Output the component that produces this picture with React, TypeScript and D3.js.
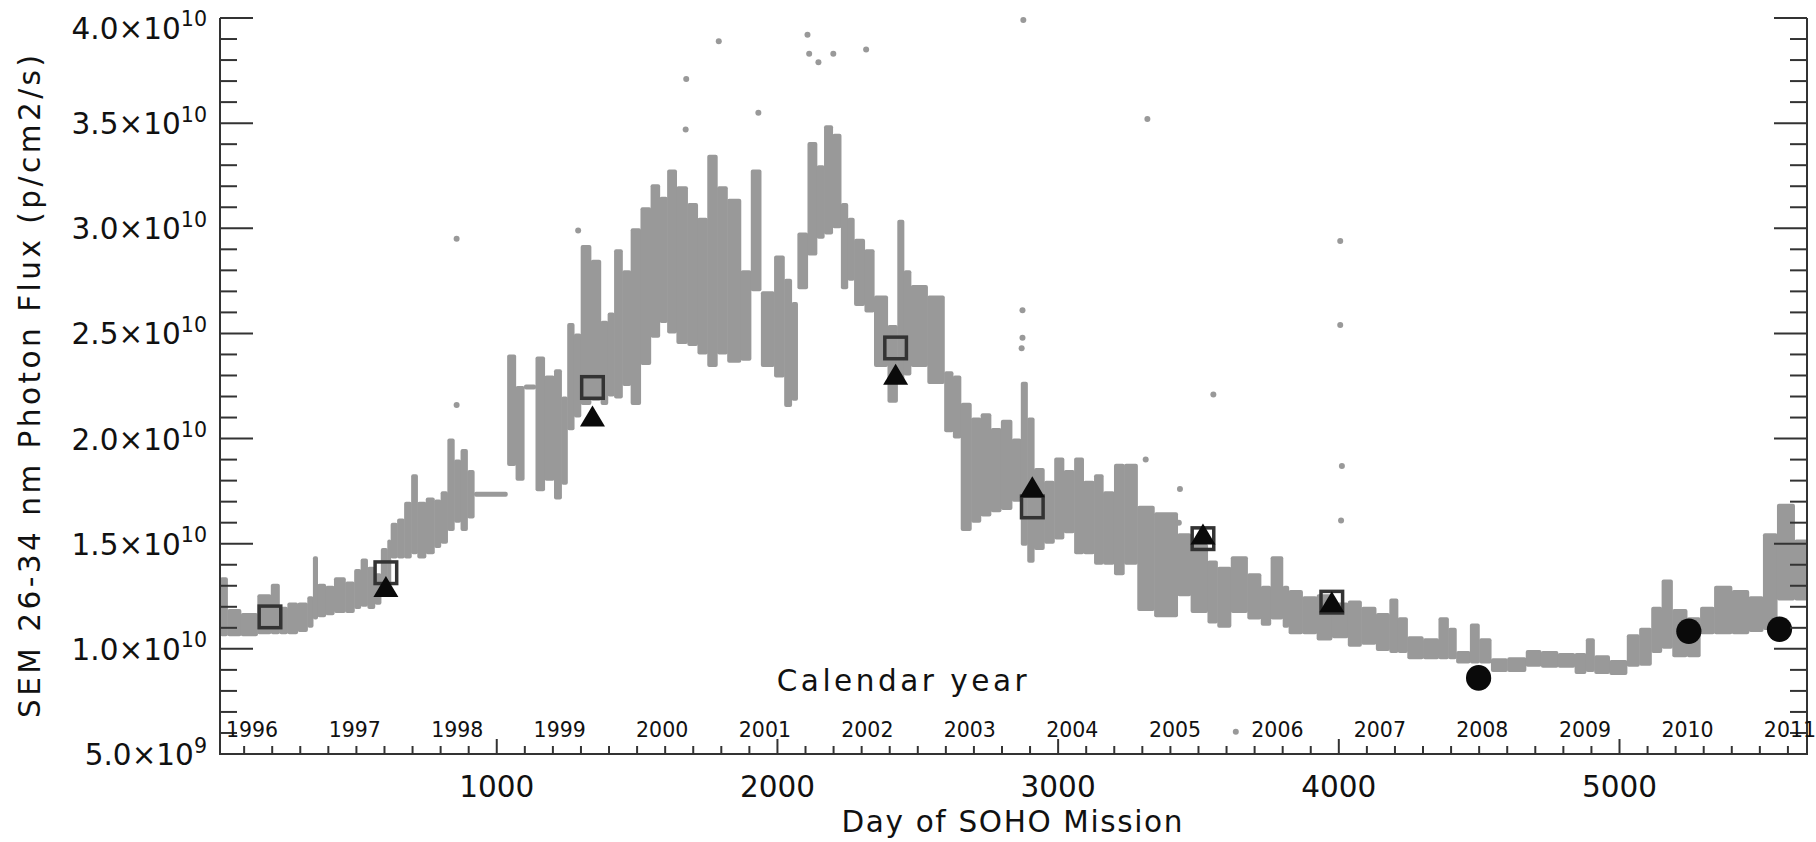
import React from 'react';
import * as d3 from 'd3';

// ---- gray daily-flux band, read per bin: start day, lowest and highest flux (1e10 p/cm2/s)
const binDay = [
  14, 40, 88, 147, 195, 225, 254, 290, 325, 345,
  361, 390, 420, 460, 492, 515, 539, 565, 587, 610,
  622, 645, 670, 695, 717, 747, 777, 800, 824, 848,
  871, 895, 919, 1037, 1067, 1097, 1138, 1170, 1204, 1230,
  1251, 1275, 1299, 1335, 1370, 1395, 1418, 1447, 1477, 1512,
  1548, 1580, 1607, 1640, 1679, 1715, 1750, 1785, 1821, 1869,
  1905, 1941, 1988, 2024, 2050, 2071, 2107, 2140, 2166, 2196,
  2226, 2250, 2273, 2310, 2344, 2392, 2427, 2450, 2475, 2534,
  2594, 2625, 2653, 2690, 2724, 2760, 2796, 2835, 2867, 2890,
  2914, 2950, 2986, 3020, 3057, 3090, 3128, 3160, 3199, 3235,
  3282, 3342, 3425, 3472, 3532, 3567, 3615, 3674, 3722, 3757,
  3800, 3821, 3870, 3921, 3975, 4032, 4080, 4132, 4180, 4210,
  4244, 4300, 4355, 4390, 4418, 4467, 4500, 4542, 4600, 4666,
  4720, 4780, 4840, 4880, 4910, 4964, 5026, 5070, 5113, 5150,
  5188, 5240, 5287, 5337, 5400, 5460, 5511, 5561, 5623,
];
const binLow = [
  1.06, 1.06, 1.06, 1.07, 1.07, 1.07, 1.07, 1.08, 1.10, 1.14,
  1.15, 1.16, 1.17, 1.17, 1.19, 1.20, 1.19, 1.21, 1.27, 1.30,
  1.43, 1.43, 1.43, 1.45, 1.43, 1.45, 1.48, 1.50, 1.56, 1.60,
  1.56, 1.62, 1.725, 1.87, 1.80, 2.235, 1.75, 1.80, 1.71, 1.78,
  2.04, 2.10, 2.16, 2.18, 2.16, 2.20, 2.19, 2.25, 2.16, 2.35,
  2.48, 2.55, 2.50, 2.45, 2.44, 2.40, 2.34, 2.40, 2.36, 2.37,
  2.70, 2.34, 2.29, 2.15, 2.18, 2.71, 2.87, 2.95, 2.97, 3.00,
  2.71, 2.75, 2.63, 2.60, 2.34, 2.17, 2.26, 2.30, 2.34, 2.26,
  2.03, 2.00, 1.56, 1.60, 1.63, 1.65, 1.66, 1.70, 1.49, 1.41,
  1.47, 1.50, 1.52, 1.55, 1.45, 1.45, 1.40, 1.40, 1.35, 1.40,
  1.18, 1.15, 1.25, 1.17, 1.12, 1.10, 1.17, 1.14, 1.11, 1.14,
  1.10, 1.07, 1.07, 1.04, 1.05, 1.01, 1.02, 0.99, 0.98, 0.98,
  0.95, 0.95, 0.95, 0.95, 0.93, 0.93, 0.93, 0.89, 0.89, 0.915,
  0.91, 0.91, 0.88, 0.89, 0.88, 0.876, 0.915, 0.92, 0.98, 1.00,
  0.96, 0.96, 1.07, 1.07, 1.07, 1.08, 1.09, 1.23, 1.23,
];
const binHigh = [
  1.34, 1.19, 1.17, 1.26, 1.31, 1.20, 1.22, 1.22, 1.25, 1.44,
  1.31, 1.30, 1.34, 1.32, 1.38, 1.43, 1.39, 1.36, 1.48, 1.52,
  1.60, 1.62, 1.70, 1.83, 1.70, 1.72, 1.71, 1.75, 2.00, 1.90,
  1.95, 1.85, 1.745, 2.40, 2.25, 2.255, 2.39, 2.30, 2.33, 2.20,
  2.55, 2.50, 2.92, 2.85, 2.56, 2.60, 2.90, 2.80, 3.00, 3.10,
  3.21, 3.15, 3.28, 3.20, 3.12, 3.05, 3.35, 3.20, 3.14, 2.80,
  3.28, 2.70, 2.87, 2.76, 2.65, 2.98, 3.41, 3.30, 3.49, 3.45,
  3.12, 3.05, 2.95, 2.90, 2.68, 2.54, 3.04, 2.80, 2.73, 2.68,
  2.32, 2.30, 2.17, 2.10, 2.12, 2.05, 2.09, 2.00, 2.27, 2.10,
  1.86, 1.80, 1.91, 1.85, 1.91, 1.80, 1.83, 1.75, 1.88, 1.88,
  1.68, 1.65, 1.55, 1.50, 1.42, 1.39, 1.44, 1.36, 1.30, 1.44,
  1.30, 1.28, 1.25, 1.26, 1.22, 1.23, 1.20, 1.17, 1.24, 1.15,
  1.06, 1.05, 1.15, 1.10, 0.99, 1.12, 1.05, 0.955, 0.96, 0.995,
  0.99, 0.98, 0.98, 1.05, 0.97, 0.947, 1.07, 1.10, 1.20, 1.33,
  1.19, 1.15, 1.20, 1.30, 1.28, 1.25, 1.55, 1.69, 1.52,
];
const lastDay = 5668;

// isolated gray points
const outlierDay = [857, 857, 1290, 1673, 1675, 1791, 1932, 2107, 2113, 2146, 2199, 2316, 2876, 2873, 2873, 2870, 3318, 3312, 3434, 3430, 3553, 3633, 4005, 4005, 4011, 4008];
const outlierFlux = [2.95, 2.16, 2.99, 3.47, 3.71, 3.89, 3.55, 3.92, 3.83, 3.79, 3.83, 3.85, 3.99, 2.61, 2.48, 2.43, 3.52, 1.90, 1.76, 1.60, 2.21, 0.606, 2.94, 2.54, 1.87, 1.61];

// comparison markers
const squareDay = [192, 605, 1341, 2421, 2908, 3516, 3975];
const squareFlux = [1.152, 1.362, 2.243, 2.431, 1.675, 1.524, 1.222];
const triangleDay = [605, 1341, 2421, 2908, 3516, 3975];
const triangleFlux = [1.297, 2.107, 2.306, 1.771, 1.546, 1.224];
const circleDay = [4498, 5247, 5570];
const circleFlux = [0.862, 1.084, 1.093];

// axes
const dayTicks = [1000, 2000, 3000, 4000, 5000];
const fluxTicks = [0.5, 1.0, 1.5, 2.0, 2.5, 3.0, 3.5, 4.0];
const yearLabels = ['1996', '1997', '1998', '1999', '2000', '2001', '2002', '2003', '2004', '2005', '2006', '2007', '2008', '2009', '2010', '2011'];
const yearStartDay = [30, 396, 761, 1126, 1491, 1857, 2222, 2587, 2952, 3318, 3683, 4048, 4413, 4779, 5144, 5509];

export default function App() {
  const W = 1816;
  const H = 842;
  const x = d3.scaleLinear().domain([14, lastDay]).range([220, 1807]);
  const y = d3.scaleLinear().domain([0.5, 4.0]).range([754, 18]);
  const axisColor = '#333';
  const gray = '#999';
  const font = 'DejaVu Sans, Verdana, sans-serif';

  const minorX = d3.range(100, lastDay, 100);
  const minorY = d3.range(5, 41).map((i) => i / 10);

  return (
    <svg width={W} height={H} style={{ position: 'absolute', left: 0, top: 0, display: 'block', background: '#fff' }} fontFamily={font}>
      {/* gray band */}
      <g fill={gray}>
        {binDay.map((d, i) => {
          const x0 = x(d);
          const x1 = x(i + 1 < binDay.length ? binDay[i + 1] : lastDay);
          let yt = y(binHigh[i]);
          let yb = y(binLow[i]);
          if (yb - yt < 5) {
            const m = (yt + yb) / 2;
            yt = m - 2.5;
            yb = m + 2.5;
          }
          return <rect key={i} x={x0} y={yt} width={Math.max(1, x1 - x0 + 0.6)} height={yb - yt} rx={2} />;
        })}
        {outlierDay.map((d, i) => (
          <circle key={'o' + i} cx={x(d)} cy={y(outlierFlux[i])} r={3} />
        ))}
      </g>

      {/* squares */}
      <g fill="none" stroke="#333" strokeWidth={3.5}>
        {squareDay.map((d, i) => (
          <rect key={'s' + i} x={x(d) - 10.8} y={y(squareFlux[i]) - 10.8} width={21.6} height={21.6} />
        ))}
      </g>
      {/* triangles and circles */}
      <g fill="#0a0a0a">
        {triangleDay.map((d, i) => {
          const cx = x(d);
          const cy = y(triangleFlux[i]);
          return <path key={'t' + i} d={`M${cx},${cy - 10.5}L${cx + 12.5},${cy + 10.5}L${cx - 12.5},${cy + 10.5}Z`} />;
        })}
        {circleDay.map((d, i) => (
          <ellipse key={'c' + i} cx={x(d)} cy={y(circleFlux[i])} rx={12.6} ry={12.8} />
        ))}
      </g>

      {/* axes */}
      <g stroke={axisColor} strokeWidth={2} fill="none">
        <line x1={220} y1={18} x2={220} y2={755} />
        <line x1={1807} y1={18} x2={1807} y2={755} />
        <line x1={219} y1={754} x2={1808} y2={754} />
        {minorY.map((v, i) => {
          const major = Math.abs(v * 2 - Math.round(v * 2)) < 1e-6;
          const len = major ? 33 : 17;
          return (
            <g key={'yt' + i}>
              <line x1={220} x2={220 + len} y1={y(v)} y2={y(v)} />
              <line x1={1807} x2={1807 - len} y1={y(v)} y2={y(v)} />
            </g>
          );
        })}
        {minorX.map((d) => {
          const major = d % 1000 === 0;
          return <line key={'xt' + d} x1={x(d)} x2={x(d)} y1={754} y2={754 - (major ? 15 : 8)} />;
        })}
      </g>

      {/* y tick labels */}
      <g fill="#111" fontSize={29.5}>
        {fluxTicks.map((v) => {
          const big = v >= 1;
          const mant = big ? v.toFixed(1) : (v * 10).toFixed(1);
          const exp = big ? '10' : '9';
          const dy = v >= 4 ? 20.5 : 11;
          return (
            <text key={'yl' + v} x={207} y={y(v) + dy} textAnchor="end">
              {mant}×10
              <tspan dy={-12.5} fontSize={20.6}>{exp}</tspan>
            </text>
          );
        })}
      </g>

      {/* day labels */}
      <g fill="#111" fontSize={29.5}>
        {dayTicks.map((d) => (
          <text key={'dl' + d} x={x(d)} y={797} textAnchor="middle">{d}</text>
        ))}
      </g>

      {/* year labels */}
      <g fill="#111" fontSize={20.5}>
        {yearLabels.map((t, i) => (
          <text key={'yr' + t} x={x(yearStartDay[i]) + 1.5} y={737}>{t}</text>
        ))}
      </g>

      <text x={776.7} y={691} fontSize={29.5} fill="#111" textLength={250} lengthAdjust="spacing">Calendar year</text>
      <text x={841.5} y={832} fontSize={29.5} fill="#111" textLength={341} lengthAdjust="spacing">Day of SOHO Mission</text>
      <text transform="translate(40,386.5) rotate(-90)" textAnchor="middle" fontSize={29.5} fill="#111" textLength={663} lengthAdjust="spacing">SEM 26-34 nm Photon Flux (p/cm2/s)</text>
    </svg>
  );
}
